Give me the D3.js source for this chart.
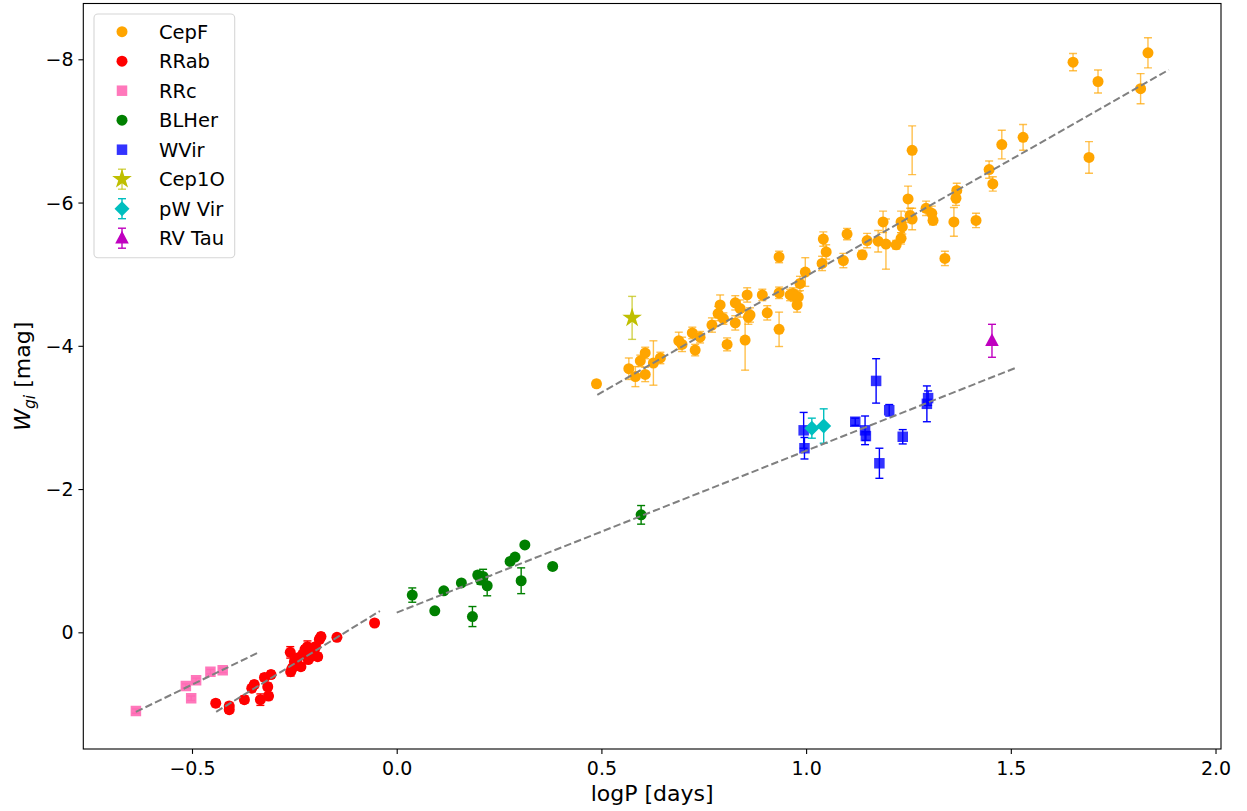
<!DOCTYPE html>
<html>
<head>
<meta charset="utf-8">
<script src="https://cdn.jsdelivr.net/npm/d3@7"></script>
<style>
  html, body { margin: 0; padding: 0; background: #fff; }
  svg { display: block; font-family: "DejaVu Sans", sans-serif; }
</style>
</head>
<body>
<svg id="chart" width="1247" height="811"></svg>
<script>
// ---- data: [logP (days), W_gi (mag), error] ----
const cepF = [
  [0.488,-3.47,0.05],[0.567,-3.68,0.15],[0.583,-3.57,0.14],[0.595,-3.79,0.08],
  [0.607,-3.90,0.08],[0.607,-3.60,0.10],[0.627,-3.76,0.31],[0.644,-3.83,0.08],
  [0.689,-4.07,0.12],[0.697,-4.02,0.10],[0.722,-4.18,0.08],[0.729,-3.94,0.08],
  [0.741,-4.12,0.08],[0.770,-4.29,0.10],[0.790,-4.57,0.14],[0.785,-4.45,0.10],
  [0.798,-4.38,0.08],[0.807,-4.02,0.09],[0.827,-4.60,0.10],[0.827,-4.32,0.10],
  [0.839,-4.52,0.12],[0.851,-4.08,0.42],[0.856,-4.71,0.10],[0.859,-4.40,0.10],
  [0.863,-4.43,0.10],[0.893,-4.71,0.08],[0.905,-4.46,0.10],[0.934,-4.74,0.08],
  [0.934,-4.23,0.24],[0.934,-5.24,0.08],[0.961,-4.71,0.08],[0.968,-4.73,0.08],
  [0.970,-4.70,0.08],[0.981,-4.68,0.08],[0.978,-4.57,0.10],[0.985,-4.87,0.10],
  [0.998,-5.03,0.20],[1.039,-5.15,0.10],[1.042,-5.49,0.10],[1.049,-5.31,0.10],
  [1.091,-5.19,0.10],[1.100,-5.56,0.08],[1.137,-5.27,0.06],[1.149,-5.47,0.10],
  [1.176,-5.46,0.15],[1.188,-5.73,0.15],[1.195,-5.42,0.35],[1.220,-5.41,0.06],
  [1.232,-5.50,0.08],[1.232,-5.73,0.15],[1.235,-5.66,0.10],[1.249,-6.05,0.18],
  [1.254,-5.82,0.10],[1.259,-5.77,0.15],[1.259,-6.73,0.34],[1.293,-5.92,0.10],
  [1.307,-5.85,0.10],[1.310,-5.75,0.06],[1.339,-5.22,0.10],[1.361,-5.73,0.20],
  [1.366,-6.06,0.10],[1.368,-6.17,0.10],[1.415,-5.75,0.10],[1.447,-6.46,0.12],
  [1.456,-6.26,0.10],[1.478,-6.81,0.20],[1.530,-6.91,0.18],[1.652,-7.96,0.12],
  [1.691,-6.63,0.22],[1.713,-7.69,0.16],[1.817,-7.59,0.21],[1.835,-8.09,0.21]
];
const rrab = [
  [-0.442,0.99,0.05],[-0.409,1.03,0.05],[-0.409,1.08,0.05],[-0.372,0.94,0.05],
  [-0.354,0.78,0.05],[-0.348,0.73,0.05],[-0.333,0.94,0.08],[-0.323,0.63,0.05],
  [-0.315,0.76,0.05],[-0.313,0.89,0.05],[-0.307,0.59,0.05],[-0.260,0.28,0.08],
  [-0.259,0.55,0.06],[-0.255,0.50,0.05],[-0.250,0.41,0.05],[-0.242,0.36,0.05],
  [-0.242,0.46,0.05],[-0.234,0.48,0.05],[-0.230,0.31,0.05],[-0.224,0.24,0.05],
  [-0.218,0.20,0.08],[-0.216,0.38,0.05],[-0.210,0.34,0.05],[-0.202,0.27,0.05],
  [-0.198,0.20,0.05],[-0.193,0.34,0.05],[-0.189,0.10,0.05],[-0.185,0.06,0.05],
  [-0.146,0.07,0.04],[-0.054,-0.13,0.04]
];
const rrc = [
  [-0.637,1.10,0.03],[-0.515,0.75,0.03],[-0.502,0.92,0.03],
  [-0.490,0.67,0.03],[-0.455,0.55,0.03],[-0.425,0.53,0.03]
];
const blher = [
  [0.038,-0.52,0.10],[0.093,-0.30,0.03],[0.115,-0.58,0.03],[0.158,-0.69,0.03],
  [0.185,-0.22,0.14],[0.198,-0.80,0.05],[0.205,-0.73,0.06],[0.211,-0.78,0.10],
  [0.221,-0.65,0.14],[0.277,-0.99,0.04],[0.289,-1.05,0.03],[0.304,-0.72,0.18],
  [0.313,-1.22,0.03],[0.381,-0.92,0.03],[0.597,-1.64,0.13]
];
const wvir = [
  [0.994,-2.82,0.25],[0.996,-2.57,0.15],[1.120,-2.94,0.05],[1.144,-2.82,0.20],
  [1.146,-2.74,0.06],[1.171,-3.51,0.31],[1.179,-2.36,0.21],[1.203,-3.10,0.08],
  [1.236,-2.73,0.10],[1.295,-3.19,0.25],[1.298,-3.27,0.10]
];
const cep1o = [[0.575,-4.39,0.30]];
const pwvir = [[1.014,-2.85,0.14],[1.043,-2.88,0.24]];
const rvtau = [[1.454,-4.07,0.23]];

// period-luminosity fits: W = a + b * logP over [x0, x1]
const fitRanges = [[0.49, 1.886], [0.0, 1.51], [-0.441, -0.041], [-0.637, -0.341]];
const fitCoeffs = [[-1.724, -3.25], [-0.275, -2.26], [-0.442, -3.52], [-0.654, -2.77]];

const xTicks = [-0.5, 0.0, 0.5, 1.0, 1.5, 2.0];
const yTicks = [0, -2, -4, -6, -8];
const xDomain = [-0.7655, 2.0134];
const yDomain = [1.629, -8.779];

// ---- layout ----
const svg = d3.select("#chart");
const L = 83.3, R = 1221, T = 3.5, B = 749;
const x = d3.scaleLinear().domain(xDomain).range([L, R]);
const y = d3.scaleLinear().domain(yDomain).range([B, T]);
const minus = s => s.replace("-", "\u2212");

svg.append("defs").append("clipPath").attr("id", "plotclip")
  .append("rect").attr("x", L).attr("y", T).attr("width", R - L).attr("height", B - T);

const plot = svg.append("g").attr("clip-path", "url(#plotclip)");

// marker shapes
const shapes = {
  circle: d3.symbol().type(d3.symbolCircle).size(Math.PI * 5.5 * 5.5)(),
  square: d3.symbol().type(d3.symbolSquare).size(10.5 * 10.5)(),
  star: d3.symbol().type(d3.symbolStar).size(120)(),
  diamond: "M0,-7.5L7.5,0L0,7.5L-7.5,0Z",
  triangle: "M0,-7.5L6.8,5.2L-6.8,5.2Z"
};

const series = [
  { name: "CepF",   data: cepF,  shape: "circle",   color: "#ffa500", fillOp: 1,   barColor: "#ffa500", barOp: 0.7 },
  { name: "RRab",   data: rrab,  shape: "circle",   color: "#ff0000", fillOp: 1,   barColor: "#ff0000", barOp: 1 },
  { name: "RRc",    data: rrc,   shape: "square",   color: "#ff69b4", fillOp: 0.9, barColor: "#ff69b4", barOp: 0.9 },
  { name: "BLHer",  data: blher, shape: "circle",   color: "#008000", fillOp: 1,   barColor: "#008000", barOp: 1 },
  { name: "WVir",   data: wvir,  shape: "square",   color: "#0000ff", fillOp: 0.8, barColor: "#0000ff", barOp: 1 },
  { name: "Cep1O",  data: cep1o, shape: "star",     color: "#bfbf00", fillOp: 1,   barColor: "#bfbf00", barOp: 0.7, legendBar: true },
  { name: "pW Vir", data: pwvir, shape: "diamond",  color: "#00bfbf", fillOp: 1,   barColor: "#00bfbf", barOp: 1,   legendBar: true },
  { name: "RV Tau", data: rvtau, shape: "triangle", color: "#bf00bf", fillOp: 1,   barColor: "#bf00bf", barOp: 1,   legendBar: true }
];

const cap = 4;
series.forEach(s => {
  const g = plot.append("g");
  const bars = g.append("g")
    .attr("stroke", s.barColor).attr("stroke-opacity", s.barOp)
    .attr("stroke-width", 1.4).attr("fill", "none");
  s.data.forEach(d => {
    const cx = x(d[0]), y1 = y(d[1] - d[2]), y2 = y(d[1] + d[2]);
    bars.append("line").attr("x1", cx).attr("x2", cx).attr("y1", y1).attr("y2", y2);
    bars.append("line").attr("x1", cx - cap).attr("x2", cx + cap).attr("y1", y1).attr("y2", y1);
    bars.append("line").attr("x1", cx - cap).attr("x2", cx + cap).attr("y1", y2).attr("y2", y2);
  });
  g.append("g").selectAll("path").data(s.data).join("path")
    .attr("d", shapes[s.shape])
    .attr("transform", d => `translate(${x(d[0])},${y(d[1])})`)
    .attr("fill", s.color).attr("fill-opacity", s.fillOp);
});

// dashed fit lines
const lineGen = d3.line().x(d => x(d[0])).y(d => y(d[1]));
fitRanges.forEach((rng, i) => {
  const [a, b] = fitCoeffs[i];
  plot.append("path")
    .attr("d", lineGen(rng.map(v => [v, a + b * v])))
    .attr("fill", "none").attr("stroke", "#808080")
    .attr("stroke-width", 2).attr("stroke-dasharray", "7.4,3.2");
});

// axes
const xAxis = svg.append("g").attr("transform", `translate(0,${B})`)
  .call(d3.axisBottom(x).tickValues(xTicks).tickFormat(v => minus(d3.format(".1f")(v)))
    .tickSize(4.9).tickSizeOuter(0).tickPadding(4.9));
const yAxis = svg.append("g").attr("transform", `translate(${L},0)`)
  .call(d3.axisLeft(y).tickValues(yTicks).tickFormat(v => minus(d3.format("d")(v)))
    .tickSize(4.9).tickSizeOuter(0).tickPadding(4.9));
[xAxis, yAxis].forEach(ax => {
  ax.select(".domain").remove();
  ax.selectAll(".tick line").attr("stroke", "#000").attr("stroke-width", 1.1);
  ax.selectAll(".tick text").attr("fill", "#000")
    .style("font-family", "DejaVu Sans").style("font-size", "19px");
});
xAxis.selectAll(".tick text").attr("dy", null).attr("y", 26);
yAxis.selectAll(".tick text").attr("dy", "0.35em");

// frame
svg.append("rect").attr("x", L).attr("y", T).attr("width", R - L).attr("height", B - T)
  .attr("fill", "none").attr("stroke", "#000").attr("stroke-width", 1.1);

// axis labels
svg.append("text").attr("x", (L + R) / 2).attr("y", 801).attr("text-anchor", "middle")
  .style("font-size", "22px").text("logP [days]");

const ylab = svg.append("text").attr("transform", `translate(30,${(T + B) / 2}) rotate(-90)`)
  .attr("text-anchor", "middle").style("font-size", "22px");
ylab.append("tspan").style("font-style", "italic").text("W");
ylab.append("tspan").style("font-style", "italic").style("font-size", "15.5px").attr("dy", 4.5).text("gi");
ylab.append("tspan").attr("dy", -4.5).text(" [mag]");

// legend
const leg = svg.append("g");
leg.append("rect").attr("x", 94).attr("y", 14).attr("width", 140.7).attr("height", 243.7)
  .attr("rx", 4).attr("fill", "#fff").attr("fill-opacity", 0.8)
  .attr("stroke", "#d6d6d6").attr("stroke-width", 1.1);
series.forEach((s, i) => {
  const cy = 31.7 + i * 29.5, mx = 122;
  const row = leg.append("g");
  if (s.legendBar) {
    const bg = row.append("g").attr("stroke", s.barColor).attr("stroke-opacity", s.barOp).attr("stroke-width", 1.4);
    bg.append("line").attr("x1", mx).attr("x2", mx).attr("y1", cy - 10).attr("y2", cy + 10);
    bg.append("line").attr("x1", mx - cap).attr("x2", mx + cap).attr("y1", cy - 10).attr("y2", cy - 10);
    bg.append("line").attr("x1", mx - cap).attr("x2", mx + cap).attr("y1", cy + 10).attr("y2", cy + 10);
  }
  row.append("path").attr("d", shapes[s.shape]).attr("transform", `translate(${mx},${cy})`)
    .attr("fill", s.color).attr("fill-opacity", s.fillOp);
  row.append("text").attr("x", 159).attr("y", cy + 7).style("font-size", "19.5px").text(s.name);
});
</script>
</body>
</html>
